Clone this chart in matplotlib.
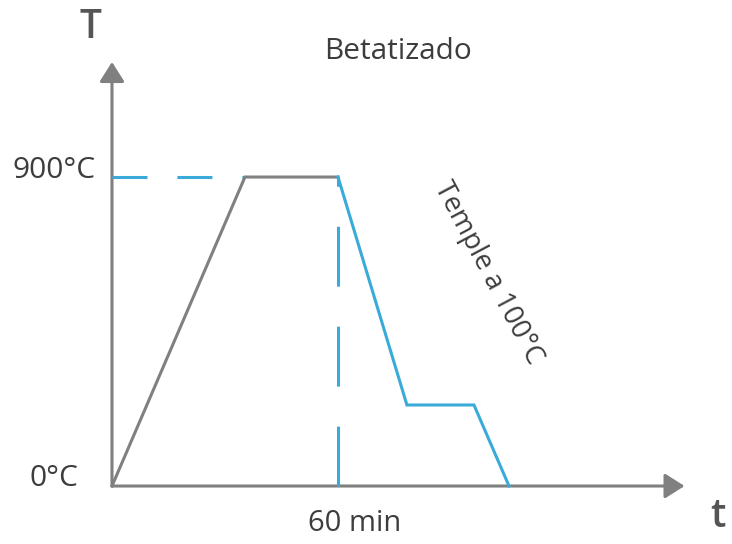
import matplotlib
matplotlib.use("Agg")
import matplotlib.pyplot as plt

# Data (time in minutes, temperature in °C) - schematic
heat_t = [0, 35.3, 60]
heat_T = [0, 900, 900]
cool_t = [60, 78.3, 96.1, 105.4]
cool_T = [900, 236, 236, 0]
ref_time = 60
ref_temp = 900
ytick_labels = ["0°C", "900°C"]
xtick_label = "60 min"
title = "Betatizado"
stage_label = "Temple a 100°C"

GRAY = "#808080"
BLUE = "#3aabd8"
TXT = "#3d3d3d"
FONT = ["Open Sans", "DejaVu Sans"]

fig = plt.figure(figsize=(7.32, 5.44), dpi=100)
ax = fig.add_axes([0, 0, 1, 1])
ax.set_xlim(-29.73, 164.6)
ax.set_ylim(-168.9, 1415.6)
ax.axis("off")

# Axes arrows
x_end = 152
y_end = 1235
for xy in [(x_end, 0), (0, y_end)]:
    ax.annotate("", xy=xy, xytext=(0, 0),
                arrowprops=dict(arrowstyle="-|>,head_length=0.6,head_width=0.38",
                                mutation_scale=20, lw=2.2, color=GRAY,
                                shrinkA=0, shrinkB=0), zorder=2)

# Dashed reference lines
ax.plot([0, heat_t[1]], [ref_temp, ref_temp], color=BLUE, lw=2.2,
        dashes=(11.45, 9.8), dash_capstyle="butt", zorder=3)
ax.plot([ref_time, ref_time], [0, ref_temp], color=BLUE, lw=2.2,
        dashes=(19.6, 13.1), dash_capstyle="butt", zorder=3)

# Curves
ax.plot(heat_t, heat_T, color=GRAY, lw=2.2, solid_joinstyle="miter", zorder=4)
ax.plot(cool_t, cool_T, color=BLUE, lw=2.2, solid_joinstyle="miter", zorder=5)

# Labels
ax.text(-15.5, ref_temp + 20, ytick_labels[1], ha="center", va="center",
        fontsize=21.5, color=TXT, family=FONT)
ax.text(-15.5, 22, ytick_labels[0], ha="center", va="center",
        fontsize=21.5, color=TXT, family=FONT)
ax.text(ref_time + 4.3, -110, xtick_label, ha="center", va="center",
        fontsize=21, color=TXT, family=FONT)
ax.text(76, 1267, title, ha="center", va="center",
        fontsize=21.5, color=TXT, family=FONT)
ax.text(-5.8, 1334, "T", ha="center", va="center",
        fontsize=28, color="#555555", family=FONT, fontweight="semibold")
ax.text(160.9, -91, "t", ha="center", va="center",
        fontsize=28, color="#555555", family=FONT, fontweight="semibold")
ax.text(99.8, 620, stage_label, ha="center", va="center", rotation=-62,
        rotation_mode="anchor", fontsize=20, color=TXT, family=FONT)

fig.savefig("out.png", dpi=100)
